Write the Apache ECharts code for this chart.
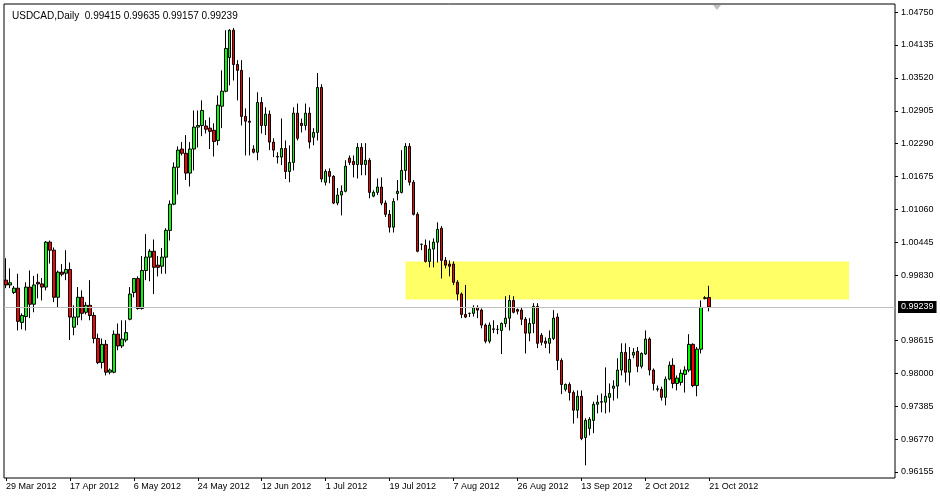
<!DOCTYPE html>
<html><head><meta charset="utf-8">
<script src="https://cdn.jsdelivr.net/npm/echarts@6/dist/echarts.min.js"></script>
<style>html,body{margin:0;padding:0;background:#fff}#c{width:940px;height:497px}</style>
</head><body><div id="c"></div>
<script>
const startDate = '2012-03-29';
const totalSlots = 223;
const yTicks = [1.04750,1.04135,1.03520,1.02905,1.02290,1.01675,1.01060,1.00445,0.99830,0.98615,0.98000,0.97385,0.96770,0.96155];
const lastPrice = 0.99239;
const zoneTop = 1.0009, zoneBottom = 0.9938, zoneFrom = 100, zoneTo = 211;
const opens = [
.9974,.9965,.9951,.9959,.9895,.9906,.9961,.9929,.9970,.9967,
.9961,1.0045,1.0030,.9942,.9989,.9987,.9994,.9886,.9905,.9942,
.9914,.9927,.9908,.9865,.9820,.9854,.9802,.9802,.9873,.9851,
.9862,.9901,.9951,.9977,.9921,.9992,1.0017,1.0028,1.0002,1.0000,
1.0017,1.0067,1.0116,1.0185,1.0219,1.0211,1.0174,1.0219,1.0260,1.0263,
1.0262,1.0258,1.0254,1.0235,1.0299,1.0327,1.0390,1.0441,1.0377,1.0366,
1.0280,1.0271,1.0219,1.0213,1.0306,1.0263,1.0284,1.0232,1.0205,1.0204,
1.0220,1.0177,1.0194,1.0286,1.0267,1.0263,1.0286,1.0241,1.0250,1.0334,
1.0157,1.0177,1.0168,1.0118,1.0133,1.0140,1.0202,1.0196,1.0190,1.0222,
1.0190,1.0198,1.0131,1.0138,1.0148,1.0118,1.0097,1.0073,1.0136,1.0138,
1.0179,1.0224,1.0157,1.0097,1.0041,1.0039,1.0009,1.0032,1.0045,1.0071,
1.0011,1.0004,1.0004,.9970,.9948,.9910,.9912,.9912,.9923,.9918,
.9890,.9860,.9882,.9882,.9880,.9893,.9903,.9936,.9919,.9918,
.9901,.9875,.9893,.9925,.9871,.9860,.9856,.9865,.9905,.9824,
.9770,.9779,.9764,.9731,.9757,.9680,.9697,.9712,.9742,.9746,
.9746,.9755,.9772,.9776,.9806,.9839,.9802,.9834,.9841,.9813,
.9836,.9864,.9806,.9770,.9770,.9755,.9789,.9815,.9781,.9783,
.9798,.9806,.9854,.9777,.9845,.9940,.99415];
const closes = [
.9965,.9969,.9959,.9897,.9908,.9961,.9929,.9965,.9967,.9961,
1.0045,1.0030,.9942,.9989,.9985,.9994,.9905,.9905,.9942,.9912,
.9927,.9908,.9865,.9820,.9854,.9802,.9806,.9873,.9851,.9864,
.9876,.9948,.9977,.9921,.9992,1.0017,1.0028,.9998,.9998,1.0017,
1.0067,1.0116,1.0185,1.0217,1.0211,1.0174,1.0219,1.0260,1.0263,1.0291,
1.0256,1.0252,1.0233,1.0301,1.0327,1.0407,1.0441,1.0377,1.0366,1.0280,
1.0271,1.0269,1.0213,1.0306,1.0263,1.0284,1.0232,1.0217,1.0204,1.0220,
1.0177,1.0194,1.0286,1.0239,1.0263,1.0286,1.0232,1.0250,1.0334,1.0163,
1.0177,1.0168,1.0118,1.0133,1.0140,1.0187,1.0194,1.0190,1.0222,1.0190,
1.0198,1.0138,1.0138,1.0148,1.0118,1.0097,1.0073,1.0121,1.0140,1.0179,
1.0224,1.0157,1.0097,1.0028,1.0041,1.0009,1.0032,1.0045,1.0069,1.0011,
1.0002,1.0000,.9970,.9948,.9910,.9905,.9912,.9923,.9918,.9890,
.9860,.9890,.9883,.9882,.9893,.9903,.9936,.9914,.9916,.9901,
.9875,.9893,.9925,.9856,.9858,.9856,.9865,.9903,.9824,.9779,
.9779,.9764,.9731,.9757,.9678,.9712,.9714,.9742,.9746,.9747,
.9757,.9762,.9776,.9806,.9839,.9802,.9826,.9839,.9813,.9837,
.9864,.9806,.9781,.9771,.9755,.9789,.9815,.9781,.9791,.9800,
.9806,.9854,.9777,.9845,.9923,.9941,.99239];
const lows = [
.9959,.9959,.9948,.9880,.9882,.9880,.9903,.9914,.9940,.9936,
.9955,1.0005,.9933,.9923,.9981,.9974,.9862,.9871,.9890,.9899,
.9910,.9899,.9856,.9817,.9809,.9796,.9798,.9800,.9843,.9847,
.9858,.9899,.9942,.9919,.9919,.9974,.9972,.9948,.9981,.9986,
.9986,1.0048,1.0114,1.0134,1.0207,1.0161,1.0149,1.0179,1.0222,1.0243,
1.0248,1.0219,1.0205,1.0226,1.0258,1.0325,1.0338,1.0347,1.0310,1.0263,
1.0207,1.0207,1.0211,1.0198,1.0248,1.0245,1.0217,1.0204,1.0192,1.0189,
1.0163,1.0157,1.0179,1.0235,1.0250,1.0254,1.0220,1.0226,1.0235,1.0157,
1.0151,1.0155,1.0116,1.0114,1.0095,1.0138,1.0189,1.0166,1.0164,1.0170,
1.0170,1.0127,1.0129,1.0133,1.0114,1.0092,1.0063,1.0063,1.0123,1.0136,
1.0161,1.0151,1.0095,1.0026,1.0030,1.0007,.9998,.9998,1.0007,.9977,
.9996,.9981,.9965,.9936,.9903,.9903,.9905,.9906,.9903,.9884,
.9856,.9856,.9875,.9873,.9836,.9886,.9880,.9912,.9910,.9890,
.9837,.9860,.9875,.9847,.9852,.9847,.9837,.9862,.9806,.9761,
.9766,.9749,.9706,.9716,.9675,.9628,.9684,.9688,.9725,.9727,
.9725,.9727,.9749,.9753,.9796,.9783,.9777,.9828,.9802,.9809,
.9834,.9796,.9768,.9766,.9749,.9740,.9787,.9772,.9768,.9777,
.9764,.9802,.9774,.9757,.9837,.9938,.99157];
const highs = [
1.0015,.9996,.9963,.9986,.9912,.9970,.9992,.9982,.9986,.9978,
1.0047,1.0048,1.0035,.9992,1.0004,1.0030,1.0007,.9927,.9961,.9955,
.9933,.9974,.9914,.9874,.9865,.9862,.9809,.9880,.9893,.9899,
.9899,.9961,.9978,.9981,1.0019,1.0060,1.0032,1.0050,1.0019,1.0034,
1.0071,1.0123,1.0194,1.0224,1.0232,1.0245,1.0232,1.0291,1.0291,1.0310,
1.0273,1.0278,1.0267,1.0319,1.0366,1.0441,1.0443,1.0445,1.0385,1.0385,
1.0295,1.0353,1.0226,1.0325,1.0316,1.0297,1.0291,1.0239,1.0213,1.0276,
1.0235,1.0226,1.0297,1.0304,1.0276,1.0304,1.0297,1.0258,1.0361,1.0340,
1.0181,1.0183,1.0170,1.0146,1.0151,1.0198,1.0207,1.0207,1.0230,1.0230,
1.0230,1.0202,1.0142,1.0164,1.0166,1.0123,1.0105,1.0127,1.0161,1.0217,
1.0230,1.0230,1.0161,1.0101,1.0042,1.0050,1.0048,1.0052,1.0082,1.0075,
1.0017,1.0011,1.0009,.9974,.9951,.9965,.9913,.9927,.9927,.9921,
.9893,.9895,.9899,.9890,.9895,.9944,.9946,.9944,.9921,.9923,
.9905,.9903,.9931,.9931,.9875,.9867,.9880,.9918,.9912,.9828,
.9781,.9783,.9768,.9768,.9768,.9716,.9718,.9747,.9759,.9762,
.9811,.9781,.9787,.9828,.9856,.9856,.9849,.9847,.9849,.9839,
.9880,.9867,.9809,.9777,.9775,.9794,.9822,.9828,.9796,.9807,
.9813,.9873,.9856,.9849,.9936,.9944,.99635];

const months = ['Jan','Feb','Mar','Apr','May','Jun','Jul','Aug','Sep','Oct','Nov','Dec'];
const categories = [];
let d = new Date(startDate + 'T12:00:00Z');
while (categories.length < totalSlots) {
  if (d.getUTCDay() !== 6) categories.push(d.getUTCDate() + ' ' + months[d.getUTCMonth()] + ' ' + d.getUTCFullYear());
  d = new Date(d.getTime() + 86400000);
}
const ohlc = opens.map((o, i) => [o, closes[i], lows[i], highs[i]]);
const showLbl = (i) => i % 16 === 0 && i < opens.length;
const F = 'Liberation Sans';
const chart = echarts.init(document.getElementById('c'));
chart.setOption({
  animation: false,
  backgroundColor: '#fff',
  title: { text: 'USDCAD,Daily  ' + [opens[176], highs[176], lows[176], closes[176]].map(v => v.toFixed(5)).join(' '),
    left: 7, top: 6, textStyle: { fontFamily: F, fontSize: 10, fontWeight: 'normal', color: '#000' } },
  grid: { left: 4, right: 45, top: 4, bottom: 19, show: true, borderColor: '#000', borderWidth: 1, backgroundColor: '#fff' },
  xAxis: { type: 'category', data: categories, boundaryGap: true,
    axisLine: { show: false },
    axisTick: { show: true, interval: showLbl, alignWithLabel: true, length: 3, lineStyle: { color: '#000' } },
    axisLabel: { interval: showLbl, align: 'left', margin: 4, fontFamily: F, fontSize: 9, color: '#000' },
    splitLine: { show: false } },
  yAxis: { type: 'value', position: 'right', min: 0.96043, max: 1.04900, scale: true,
    axisLine: { show: false },
    axisTick: { show: true, length: 3, lineStyle: { color: '#000' }, customValues: yTicks },
    axisLabel: { customValues: yTicks, formatter: v => v.toFixed(5), margin: 6, fontFamily: F, fontSize: 9, color: '#000' },
    splitLine: { show: false } },
  series: [{
    type: 'candlestick', data: ohlc, barWidth: 3, z: 3,
    itemStyle: { color: '#00ff00', color0: '#ff0000', borderColor: '#000', borderColor0: '#000', borderWidth: 1 },
    markArea: { silent: true, itemStyle: { color: '#ffff66' },
      data: [[{ xAxis: categories[zoneFrom], yAxis: zoneTop }, { xAxis: categories[zoneTo], yAxis: zoneBottom }]] }
  }, {
    type: 'line', data: closes.map(() => null), symbol: 'none', silent: true, z: 2,
    markLine: { silent: true, symbol: 'none', animation: false, precision: 5,
      lineStyle: { color: '#c0c0c0', type: 'solid', width: 1 },
      label: { position: 'end', distance: 3, formatter: lastPrice.toFixed(5), backgroundColor: '#000', color: '#fff',
        padding: [2, 3, 1, 3], fontFamily: F, fontSize: 9 },
      data: [{ yAxis: lastPrice }] }
  }],
  graphic: [{ type: 'polygon', shape: { points: [[713, 5], [721, 5], [717, 10]] }, style: { fill: '#c0c0c0' } }]
});
</script></body></html>
